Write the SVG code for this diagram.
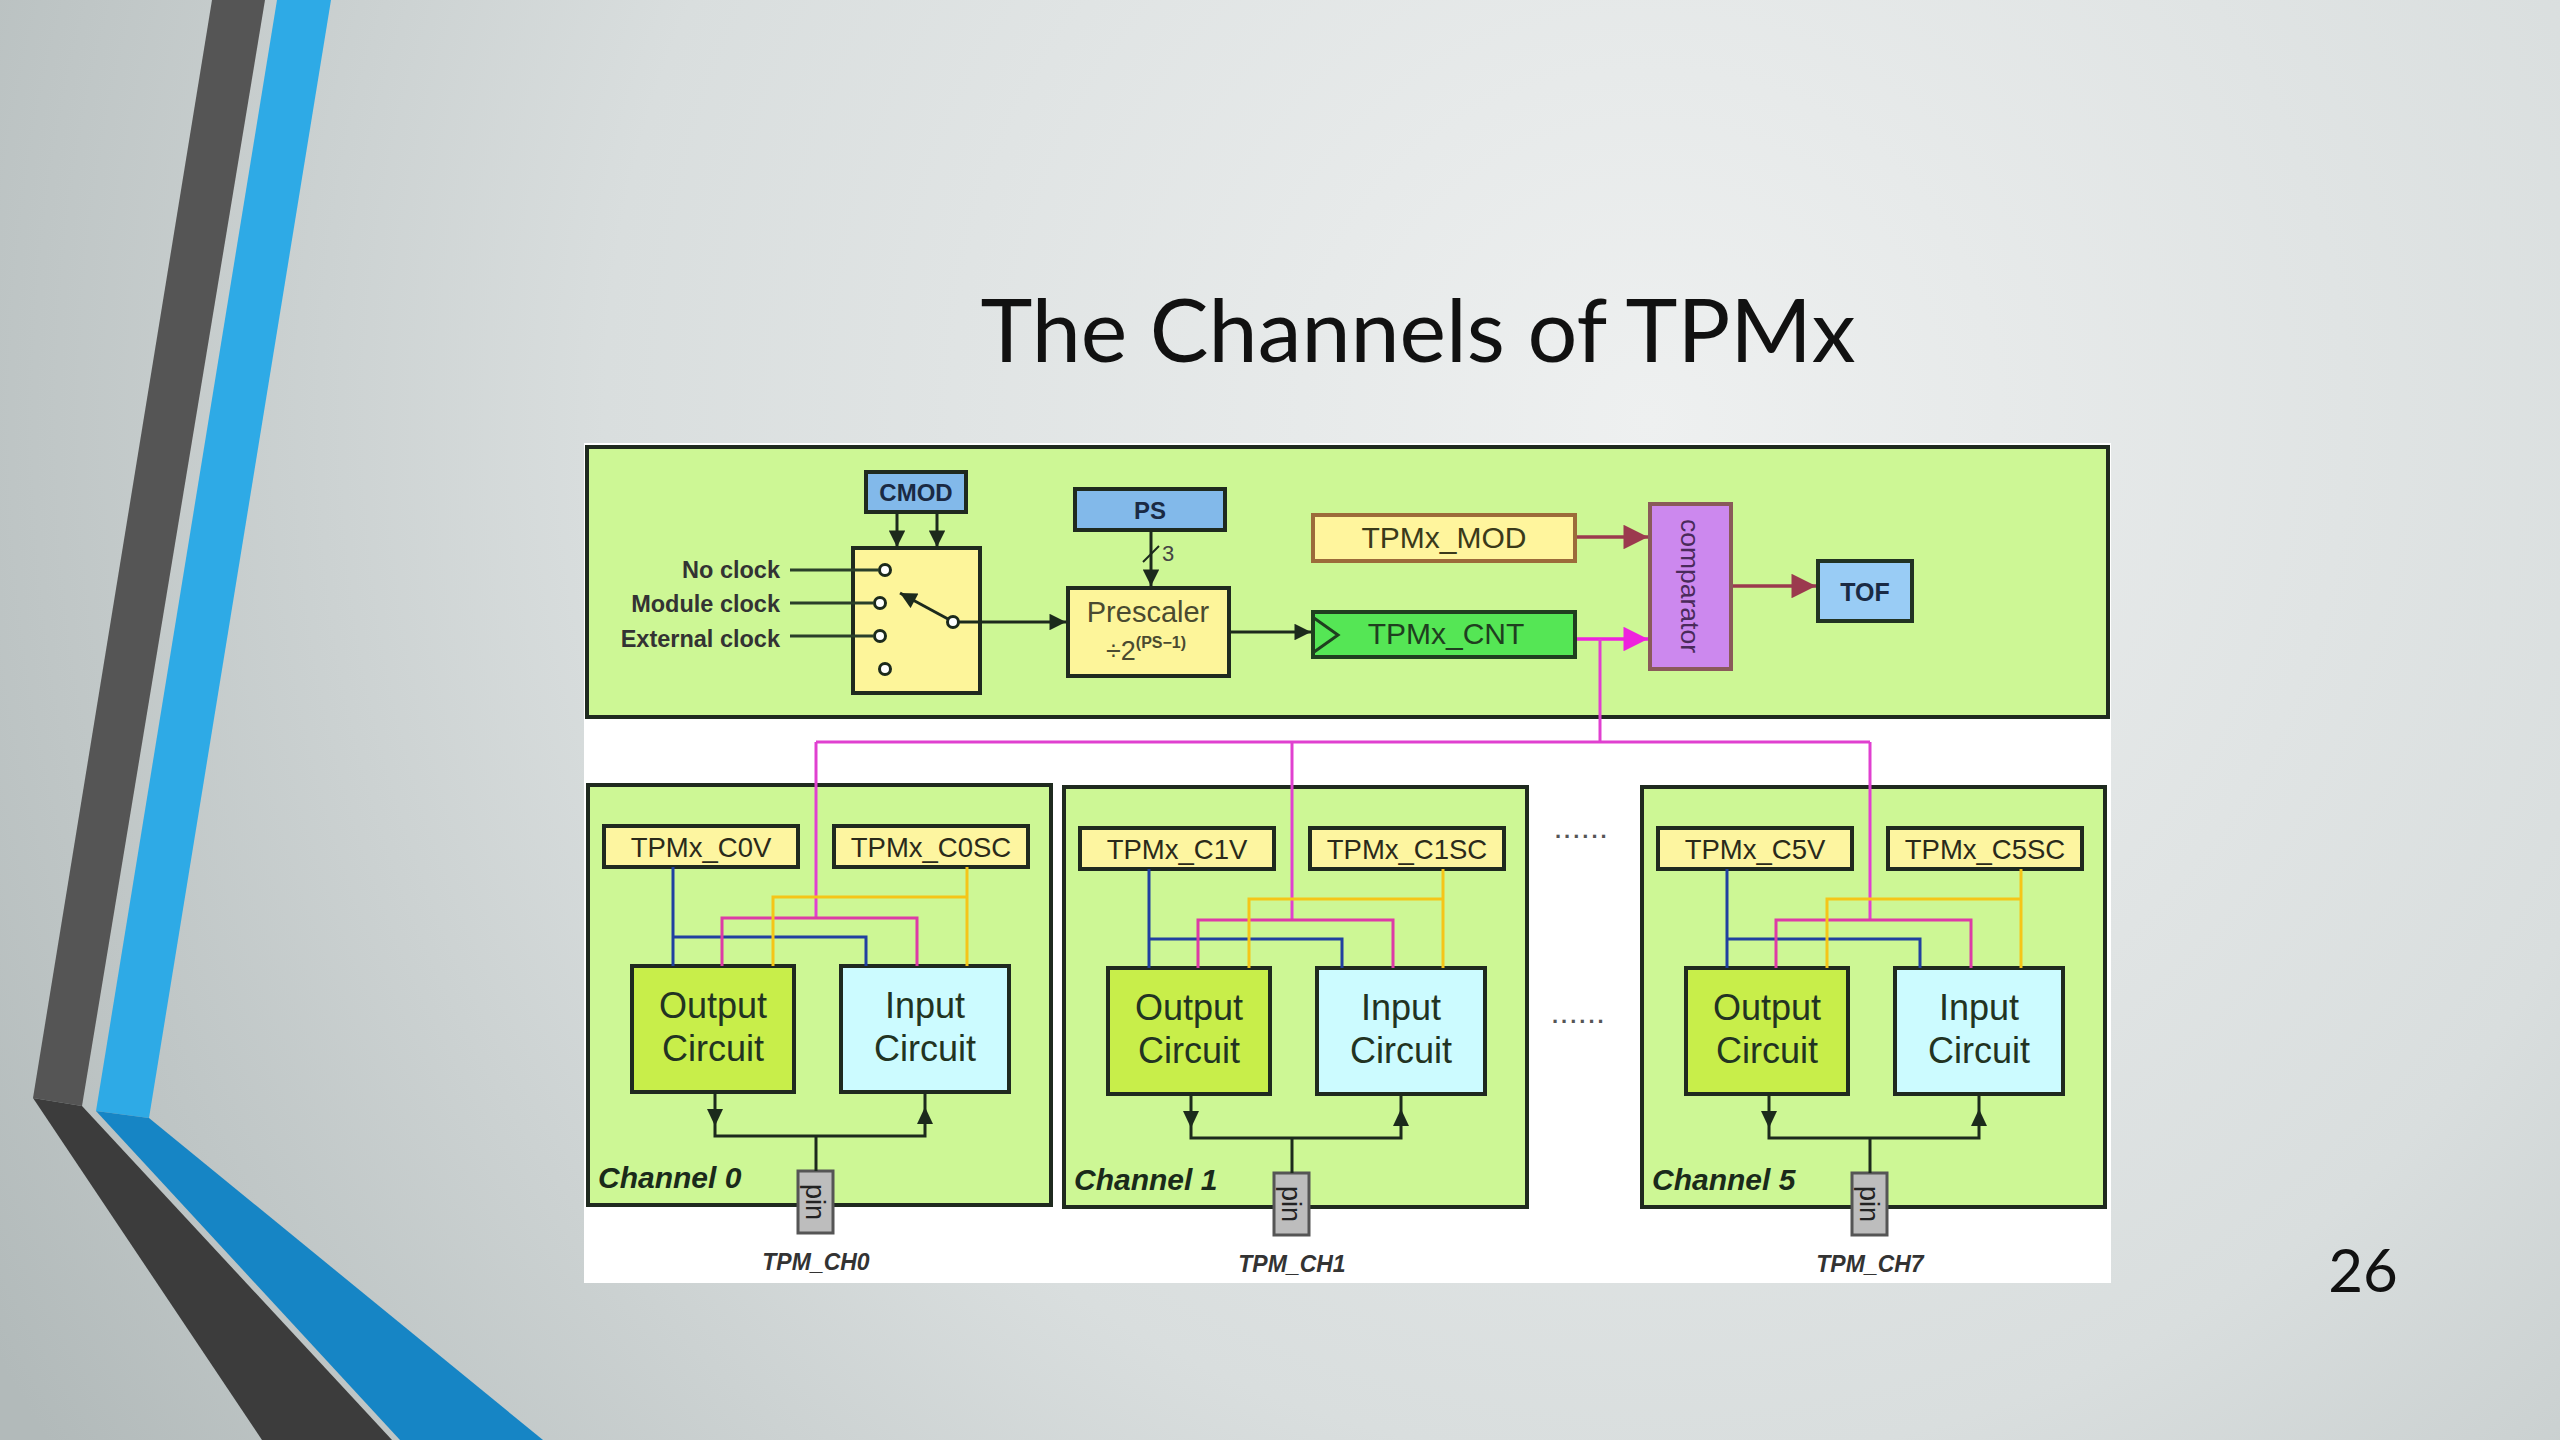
<svg xmlns="http://www.w3.org/2000/svg" width="2560" height="1440" viewBox="0 0 2560 1440">
<defs>
<radialGradient id="bg" cx="1650" cy="420" r="1900" gradientUnits="userSpaceOnUse">
<stop offset="0" stop-color="#eef0f0"/>
<stop offset="0.55" stop-color="#d9dede"/>
<stop offset="1" stop-color="#b2baba"/>
</radialGradient>
<marker id="ak" viewBox="0 0 10 10" refX="10" refY="5" markerWidth="6" markerHeight="5.5" orient="auto" markerUnits="strokeWidth">
<path d="M0,0 L10,5 L0,10 z" fill="#1c2a1c"/>
</marker>
<marker id="am" viewBox="0 0 10 10" refX="10" refY="5" markerWidth="9" markerHeight="7" orient="auto" markerUnits="strokeWidth">
<path d="M0,0 L10,5 L0,10 z" fill="#9b3a4e"/>
</marker>
<marker id="ap" viewBox="0 0 10 10" refX="10" refY="5" markerWidth="9" markerHeight="7" orient="auto" markerUnits="strokeWidth">
<path d="M0,0 L10,5 L0,10 z" fill="#ee22dd"/>
</marker>
<style>
.sans{font-family:"Liberation Sans",Arial,sans-serif}
.box{stroke:#1f2a1f;stroke-width:4}
.green{fill:#cdf795}
.reg{fill:#fdf5a0;stroke:#1f2a1f;stroke-width:4}
.blueb{fill:#82b9ea;stroke:#1f2a1f;stroke-width:4}
.w{fill:none;stroke-width:3}
.dk{stroke:#1c2a1c;fill:none;stroke-width:3}
.lbl{font-family:"Liberation Sans",Arial,sans-serif;font-weight:bold;font-size:23.5px;fill:#333}
.regt{font-family:"Liberation Sans",Arial,sans-serif;font-size:27.5px;fill:#2a2a1a;text-anchor:middle}
.circ{font-family:"Liberation Sans",Arial,sans-serif;font-size:36px;fill:#223322;text-anchor:middle}
.chl{font-family:"Liberation Sans",Arial,sans-serif;font-weight:bold;font-style:italic;font-size:30px;fill:#1a2a1a}
.tpm{font-family:"Liberation Sans",Arial,sans-serif;font-weight:bold;font-style:italic;font-size:23px;fill:#333;text-anchor:middle}
.pin{fill:#bdbdbd;stroke:#555;stroke-width:3}
.pint{font-family:"Liberation Sans",Arial,sans-serif;font-size:27px;fill:#222;text-anchor:middle}
.bl{stroke:#2040a0}
.mg{stroke:#dd3ba6}
.yl{stroke:#f5c518}
.bus{stroke:#e040d0}
.sw{fill:#fff;stroke:#1c2a1c;stroke-width:3}
.dots{font-family:"Liberation Sans",Arial,sans-serif;font-weight:bold;font-size:22px;fill:#555;letter-spacing:3px}
</style>
</defs>

<g id="background">
<rect x="0" y="0" width="2560" height="1440" fill="url(#bg)"/>
<polygon points="212,0 265,0 82,1106 33,1098" fill="#555555"/>
<polygon points="33,1098 82,1106 392,1440 262,1440" fill="#3c3c3c"/>
<polygon points="277,0 331,0 149,1118 96,1111" fill="#2eaae6"/>
<polygon points="96,1111 149,1118 543,1440 400,1440" fill="#1685c5"/>
</g>

<g id="title">
<text x="1418" y="362" text-anchor="middle" font-family="Lato,'Open Sans',sans-serif" font-size="88" fill="#111" textLength="875" lengthAdjust="spacingAndGlyphs">The Channels of TPMx</text>
</g>

<g id="page-number">
<text x="2363" y="1292" text-anchor="middle" font-family="Lato,'Open Sans',sans-serif" font-size="60" fill="#111">26</text>
</g>

<g id="diagram-bg">
<rect x="584" y="443" width="1527" height="840" fill="#ffffff"/>
</g>

<g id="counter-block">
<rect x="587" y="447" width="1521" height="270" class="green box"/>
</g>

<g id="CMOD">
<rect x="866" y="472" width="100" height="40" class="blueb"/>
<text x="916" y="501" text-anchor="middle" class="sans" font-weight="bold" font-size="24" fill="#1a2a44">CMOD</text>
</g>

<g id="clock-labels">
<text x="780" y="578" text-anchor="end" class="lbl">No clock</text>
<text x="780" y="612" text-anchor="end" class="lbl">Module clock</text>
<text x="780" y="647" text-anchor="end" class="lbl">External clock</text>
</g>

<g id="clock-switch">
<rect x="853" y="548" width="127" height="145" fill="#fdf59a" class="box"/>
<circle cx="885" cy="570" r="5.5" class="sw"/>
<circle cx="880" cy="603" r="5.5" class="sw"/>
<circle cx="880" cy="636" r="5.5" class="sw"/>
<circle cx="885" cy="669" r="5.5" class="sw"/>
<circle cx="953" cy="622" r="5.5" class="sw"/>
</g>

<g id="PS">
<rect x="1075" y="489" width="150" height="41" class="blueb"/>
<text x="1150" y="519" text-anchor="middle" class="sans" font-weight="bold" font-size="24" fill="#1a2a44">PS</text>
<text x="1162" y="561" class="sans" font-size="22" fill="#444">3</text>
</g>

<g id="Prescaler">
<rect x="1068" y="588" width="161" height="88" fill="#fdf59a" class="box"/>
<text x="1148" y="622" text-anchor="middle" class="sans" font-size="29" fill="#4a4a30">Prescaler</text>
<text x="1146" y="660" text-anchor="middle" class="sans" font-size="27" fill="#4a4a30">÷2<tspan font-size="16" font-weight="bold" dy="-12">(PS−1)</tspan></text>
</g>

<g id="TPMx_MOD">
<rect x="1313" y="515" width="262" height="46" fill="#fff59d" stroke="#9c6b3a" stroke-width="4"/>
<text x="1444" y="548" text-anchor="middle" class="sans" font-size="30" fill="#3a3a1a">TPMx_MOD</text>
</g>

<g id="TPMx_CNT">
<rect x="1313" y="612" width="262" height="45" fill="#55e655" stroke="#1f3f1f" stroke-width="4"/>
<polyline points="1314,618 1338,635 1314,652" fill="none" stroke="#1f3f1f" stroke-width="3"/>
<text x="1446" y="644" text-anchor="middle" class="sans" font-size="30" fill="#1f3f1f">TPMx_CNT</text>
</g>

<g id="comparator">
<rect x="1650" y="504" width="81" height="165" fill="#cc88ee" stroke="#8a5a5a" stroke-width="4"/>
<text x="0" y="0" transform="translate(1681,586) rotate(90)" text-anchor="middle" class="sans" font-size="26.5" fill="#4a2a5a">comparator</text>
</g>

<g id="TOF">
<rect x="1818" y="561" width="94" height="60" fill="#99ccf5" stroke="#223322" stroke-width="4"/>
<text x="1865" y="601" text-anchor="middle" class="sans" font-weight="bold" font-size="25" fill="#1a2a44">TOF</text>
</g>

<g id="channel0">
<rect x="588" y="785" width="463" height="420" class="green box"/>
<rect x="604" y="826" width="194" height="41" class="reg"/>
<text x="701" y="857" class="regt">TPMx_C0V</text>
<rect x="834" y="826" width="194" height="41" class="reg"/>
<text x="931" y="857" class="regt">TPMx_C0SC</text>
<rect x="632" y="966" width="162" height="126" fill="#c8ee4a" class="box"/>
<text x="713" y="1018" class="circ">Output</text>
<text x="713" y="1061" class="circ">Circuit</text>
<rect x="841" y="966" width="168" height="126" fill="#ccfbff" class="box"/>
<text x="925" y="1018" class="circ">Input</text>
<text x="925" y="1061" class="circ">Circuit</text>
<text x="598" y="1188" class="chl">Channel 0</text>
<rect x="798" y="1171" width="35" height="62" class="pin"/>
<text transform="translate(806,1202) rotate(90)" class="pint">pin</text>
<text x="816" y="1270" class="tpm">TPM_CH0</text>
</g>

<g id="channel1" transform="translate(476,2)">
<rect x="588" y="785" width="463" height="420" class="green box"/>
<rect x="604" y="826" width="194" height="41" class="reg"/>
<text x="701" y="857" class="regt">TPMx_C1V</text>
<rect x="834" y="826" width="194" height="41" class="reg"/>
<text x="931" y="857" class="regt">TPMx_C1SC</text>
<rect x="632" y="966" width="162" height="126" fill="#c8ee4a" class="box"/>
<text x="713" y="1018" class="circ">Output</text>
<text x="713" y="1061" class="circ">Circuit</text>
<rect x="841" y="966" width="168" height="126" fill="#ccfbff" class="box"/>
<text x="925" y="1018" class="circ">Input</text>
<text x="925" y="1061" class="circ">Circuit</text>
<text x="598" y="1188" class="chl">Channel 1</text>
<rect x="798" y="1171" width="35" height="62" class="pin"/>
<text transform="translate(806,1202) rotate(90)" class="pint">pin</text>
<text x="816" y="1270" class="tpm">TPM_CH1</text>
</g>

<g id="channel5" transform="translate(1054,2)">
<rect x="588" y="785" width="463" height="420" class="green box"/>
<rect x="604" y="826" width="194" height="41" class="reg"/>
<text x="701" y="857" class="regt">TPMx_C5V</text>
<rect x="834" y="826" width="194" height="41" class="reg"/>
<text x="931" y="857" class="regt">TPMx_C5SC</text>
<rect x="632" y="966" width="162" height="126" fill="#c8ee4a" class="box"/>
<text x="713" y="1018" class="circ">Output</text>
<text x="713" y="1061" class="circ">Circuit</text>
<rect x="841" y="966" width="168" height="126" fill="#ccfbff" class="box"/>
<text x="925" y="1018" class="circ">Input</text>
<text x="925" y="1061" class="circ">Circuit</text>
<text x="598" y="1188" class="chl">Channel 5</text>
<rect x="798" y="1171" width="35" height="62" class="pin"/>
<text transform="translate(806,1202) rotate(90)" class="pint">pin</text>
<text x="816" y="1270" class="tpm">TPM_CH7</text>
</g>

<g id="ellipsis">
<text x="1555" y="838" class="dots">......</text>
<text x="1552" y="1023" class="dots">......</text>
</g>

<g id="connectors">
<line x1="897" y1="513" x2="897" y2="547" class="dk" marker-end="url(#ak)"/>
<line x1="937" y1="513" x2="937" y2="547" class="dk" marker-end="url(#ak)"/>
<line x1="790" y1="570" x2="879" y2="570" stroke="#2a3f2a" stroke-width="3"/>
<line x1="790" y1="603" x2="874" y2="603" stroke="#2a3f2a" stroke-width="3"/>
<line x1="790" y1="636" x2="874" y2="636" stroke="#2a3f2a" stroke-width="3"/>
<line x1="948" y1="619" x2="900" y2="593" class="dk" marker-end="url(#ak)"/>
<line x1="959" y1="622" x2="1066" y2="622" class="dk" marker-end="url(#ak)"/>
<line x1="1151" y1="531" x2="1151" y2="586" class="dk" marker-end="url(#ak)"/>
<line x1="1143" y1="562" x2="1159" y2="546" stroke="#1c2a1c" stroke-width="2"/>
<line x1="1230" y1="632" x2="1311" y2="632" class="dk" marker-end="url(#ak)"/>
<line x1="1577" y1="537" x2="1648" y2="537" stroke="#9b3a4e" stroke-width="3.5" marker-end="url(#am)"/>
<line x1="1733" y1="586" x2="1816" y2="586" stroke="#9b3a4e" stroke-width="3.5" marker-end="url(#am)"/>
<line x1="1577" y1="639" x2="1648" y2="639" stroke="#ee22dd" stroke-width="3.5" marker-end="url(#ap)"/>
<polyline points="1600,639 1600,742" class="w bus"/>
<polyline points="816,742 1870,742" class="w bus"/>
<polyline points="816,742 816,918" class="w bus"/>
<polyline points="1292,742 1292,920" class="w bus"/>
<polyline points="1870,742 1870,920" class="w bus"/>
<g id="ch0-wires">
<polyline points="673,867 673,966" class="w bl"/>
<polyline points="673,937 866,937 866,966" class="w bl"/>
<polyline points="722,966 722,918 917,918 917,966" class="w mg"/>
<polyline points="967,867 967,966" class="w yl"/>
<polyline points="967,897 773,897 773,966" class="w yl"/>
<polyline points="715,1092 715,1136 925,1136 925,1094" class="dk"/>
<polygon points="707,1109 723,1109 715,1126" fill="#1c2a1c"/>
<polygon points="917,1124 933,1124 925,1107" fill="#1c2a1c"/>
<line x1="816" y1="1136" x2="816" y2="1171" class="dk"/>
</g>
<g id="ch1-wires" transform="translate(476,2)">
<polyline points="673,867 673,966" class="w bl"/>
<polyline points="673,937 866,937 866,966" class="w bl"/>
<polyline points="722,966 722,918 917,918 917,966" class="w mg"/>
<polyline points="967,867 967,966" class="w yl"/>
<polyline points="967,897 773,897 773,966" class="w yl"/>
<polyline points="715,1092 715,1136 925,1136 925,1094" class="dk"/>
<polygon points="707,1109 723,1109 715,1126" fill="#1c2a1c"/>
<polygon points="917,1124 933,1124 925,1107" fill="#1c2a1c"/>
<line x1="816" y1="1136" x2="816" y2="1171" class="dk"/>
</g>
<g id="ch5-wires" transform="translate(1054,2)">
<polyline points="673,867 673,966" class="w bl"/>
<polyline points="673,937 866,937 866,966" class="w bl"/>
<polyline points="722,966 722,918 917,918 917,966" class="w mg"/>
<polyline points="967,867 967,966" class="w yl"/>
<polyline points="967,897 773,897 773,966" class="w yl"/>
<polyline points="715,1092 715,1136 925,1136 925,1094" class="dk"/>
<polygon points="707,1109 723,1109 715,1126" fill="#1c2a1c"/>
<polygon points="917,1124 933,1124 925,1107" fill="#1c2a1c"/>
<line x1="816" y1="1136" x2="816" y2="1171" class="dk"/>
</g>
</g>
</svg>
